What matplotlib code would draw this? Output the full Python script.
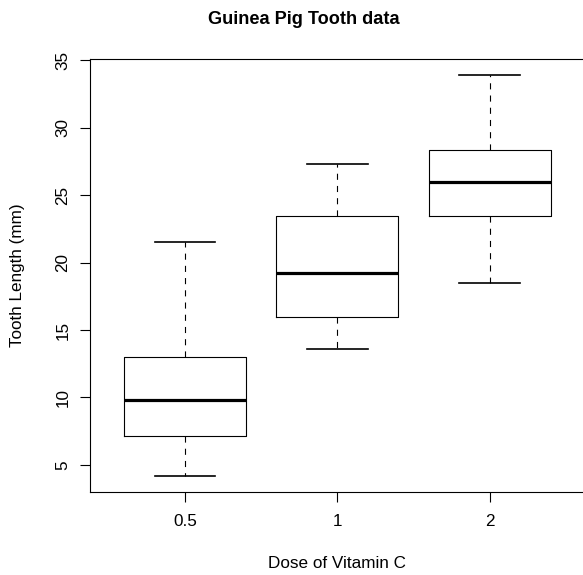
import matplotlib
matplotlib.use("Agg")
import matplotlib.pyplot as plt

plt.rcParams["font.family"] = ["Liberation Sans", "DejaVu Sans"]

# five-number summaries per dose group (R boxplot hinges)
doses = ["0.5", "1", "2"]
whisker_low = [4.2, 13.6, 18.5]
hinge_low = [7.15, 16.0, 23.45]
medians = [9.85, 19.25, 25.95]
hinge_high = [13.0, 23.45, 28.35]
whisker_high = [21.5, 27.3, 33.9]
y_ticks = [5, 10, 15, 20, 25, 30, 35]

W, H = 583, 575
fig = plt.figure(figsize=(W / 100, H / 100), dpi=100)
ax = fig.add_axes([90 / W, 1 - 491.7 / H, (W - 90) / W, (491.7 - 59) / H])

stats = [
    {"whislo": lo, "q1": q1, "med": med, "q3": q3, "whishi": hi, "label": d, "fliers": []}
    for d, lo, q1, med, q3, hi in zip(doses, whisker_low, hinge_low, medians, hinge_high, whisker_high)
]
positions = list(range(1, len(doses) + 1))
ax.bxp(
    stats,
    positions=positions,
    widths=0.8,
    capwidths=0.4,
    showfliers=False,
    boxprops=dict(color="black", linewidth=0.8),
    medianprops=dict(color="black", linewidth=2.3, solid_capstyle="butt"),
    whiskerprops=dict(color="black", linewidth=0.8, linestyle=(0, (5.5, 5.5))),
    capprops=dict(color="black", linewidth=1.2),
)

ax.set_xlim(0.377, 3.61)
ax.set_ylim(3.02, 35.08)
ax.set_xticks(positions)
ax.set_xticklabels(doses)
ax.set_yticks(y_ticks)
ax.set_yticklabels([str(v) for v in y_ticks], rotation=90, va="center")
ax.tick_params(direction="out", length=7.2, width=0.8, labelsize=12.3)
ax.tick_params(axis="x", pad=9)
ax.tick_params(axis="y", pad=7)
ax.spines["right"].set_visible(False)
for side in ("left", "bottom", "top"):
    ax.spines[side].set_linewidth(0.8)

fig.text(304 / W, 1 - 19 / H, "Guinea Pig Tooth data", ha="center", va="center",
         fontsize=13.1, fontweight="bold")
fig.text(337.5 / W, 1 - 564 / H, "Dose of Vitamin C", ha="center", va="center", fontsize=12.3)
fig.text(18 / W, 1 - 275 / H, "Tooth Length (mm)", ha="center", va="center",
         rotation=90, fontsize=12.3)

fig.savefig("out.png", dpi=100)
